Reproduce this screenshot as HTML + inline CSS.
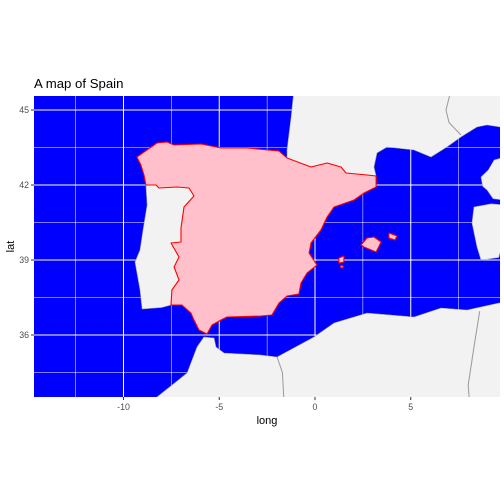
<!DOCTYPE html>
<html><head><meta charset="utf-8">
<style>body{margin:0;background:#fff}svg{display:block;font-family:"Liberation Sans",sans-serif}</style>
</head><body>
<svg id="c" width="504" height="504"></svg>
<script>
const xTicks=[-10,-5,0,5];
const yTicks=[36,39,42,45];
const xMinor=[-12.5,-7.5,-2.5,2.5,7.5];
const yMinor=[34.5,37.5,40.5,43.5];
const spain=[[-9.30,43.12],[-8.25,43.68],[-7.73,43.72],[-7.36,43.60],[-5.95,43.64],[-4.91,43.48],[-3.55,43.48],[-1.88,43.36],[-1.46,43.08],[-0.21,42.72],[0.63,42.88],[1.36,42.72],[1.62,42.48],[2.72,42.40],[3.19,42.36],[3.19,41.92],[2.56,41.68],[2.04,41.40],[0.99,41.12],[0.63,40.72],[0.31,40.20],[-0.21,39.68],[-0.31,39.28],[0.10,38.80],[-0.42,38.48],[-0.73,38.08],[-0.84,37.64],[-1.46,37.56],[-1.88,37.28],[-2.25,36.80],[-2.82,36.76],[-4.60,36.72],[-4.91,36.60],[-5.38,36.40],[-5.64,36.04],[-6.06,36.20],[-6.32,36.60],[-6.48,36.88],[-6.95,37.20],[-7.52,37.20],[-7.47,37.80],[-7.10,38.20],[-7.36,38.72],[-7.10,39.12],[-7.52,39.68],[-7.00,39.72],[-7.00,40.28],[-6.84,41.12],[-6.32,41.56],[-6.58,41.88],[-7.21,41.92],[-8.15,41.88],[-8.30,42.00],[-8.83,42.00],[-8.93,42.40],[-9.09,42.80]];
const mallorca=[[2.40,39.6],[2.72,39.88],[3.08,39.92],[3.45,39.72],[3.19,39.32],[2.56,39.52]];
const menorca=[[3.86,40.08],[4.28,39.96],[4.18,39.8],[3.86,39.88]];
const ibiza=[[1.25,39.08],[1.51,39.16],[1.51,38.92],[1.25,38.88]];
const formentera=[[1.33,38.78],[1.48,38.76],[1.45,38.68],[1.33,38.70]];
const portugal=[[-8.83,42.0],[-8.30,42.0],[-8.15,41.88],[-7.21,41.92],[-6.58,41.88],[-6.32,41.56],[-6.84,41.12],[-7.0,40.28],[-7.0,39.72],[-7.52,39.68],[-7.10,39.12],[-7.36,38.72],[-7.10,38.20],[-7.47,37.80],[-7.52,37.20],[-8.0,37.1],[-9.03,37.04],[-9.14,37.8],[-9.40,38.92],[-9.14,39.4],[-8.98,40.2],[-8.77,41.2]];
const france=[[-1.10,45.8],[-1.25,44.72],[-1.46,43.4],[-1.46,43.08],[-0.21,42.72],[0.63,42.88],[1.36,42.72],[1.62,42.48],[2.72,42.40],[3.19,42.36],[3.08,42.72],[3.24,43.28],[3.76,43.52],[5.17,43.4],[6.06,43.12],[6.89,43.52],[7.62,43.92],[8.46,44.32],[8.98,44.4],[9.66,44.32],[10,44.3],[10,45.8]];
const corsica=[[9.8,43.1],[9.35,43.0],[9.05,42.6],[8.67,42.32],[8.75,41.95],[8.98,41.8],[9.3,41.45],[9.8,41.4]];
const sardinia=[[9.2,41.25],[8.3,41.12],[8.2,40.48],[8.46,39.52],[8.67,39.0],[9.6,39.1],[9.9,40.0],[9.9,41.2]];
const africa=[[-8.6,33.0],[-8.25,33.52],[-6.68,34.48],[-6.16,35.52],[-5.80,35.92],[-5.27,35.88],[-5.17,35.52],[-4.75,35.28],[-2.82,35.2],[-1.98,35.12],[-0.05,35.92],[0.99,36.48],[2.72,36.88],[5.17,36.72],[6.58,37.08],[7.94,37.0],[9.6,37.28],[10,37.3],[10,33.0]];
const borderMA=[[-1.98,35.12],[-1.7,34.5],[-1.6,33.0]];
const borderAT=[[8.6,36.95],[8.3,35.5],[8.0,34.0],[8.1,33.0]];
const borderFI=[[7.1,45.8],[6.84,45.0],[7.0,44.5],[7.62,44.0]];

const L=34,R=500,T=96,B=397;
const x=lon=>315+lon*19.15;
const y=lat=>110+(45-lat)*25;
const NS="http://www.w3.org/2000/svg";
const svg=document.getElementById('c');
function mk(t,a,p){const e=document.createElementNS(NS,t);for(const k in a)e.setAttribute(k,a[k]);(p||svg).appendChild(e);return e;}
function pts(arr){return arr.map(d=>x(d[0]).toFixed(1)+','+y(d[1]).toFixed(1)).join(' ');}

const defs=mk('defs',{});const cp=mk('clipPath',{id:'pc'},defs);mk('rect',{x:L,y:T,width:R-L,height:B-T},cp);
const bg=mk('rect',{x:L,y:T,width:R-L,height:B-T,fill:'#0000ff'});


const g=mk('g',{'clip-path':'url(#pc)'});


xMinor.forEach(v=>{const l=mk('line',{x1:x(v),x2:x(v),y1:T,y2:B,stroke:'#fff','stroke-width':0.5},g);});
yMinor.forEach(v=>{const l=mk('line',{x1:L,x2:R,y1:y(v),y2:y(v),stroke:'#fff','stroke-width':0.5},g);});
xTicks.forEach(v=>{const l=mk('line',{x1:x(v),x2:x(v),y1:T,y2:B,stroke:'#fff','stroke-width':1},g);});
yTicks.forEach(v=>{const l=mk('line',{x1:L,x2:R,y1:y(v),y2:y(v),stroke:'#fff','stroke-width':1},g);});
function land(arr,name){const p=mk('polygon',{points:pts(arr),fill:'#f2f2f2',stroke:'#999','stroke-width':0.6},g);}
land(france,'france-land');land(corsica,'corsica-land');land(sardinia,'sardinia-land');land(africa,'africa-land');land(portugal,'portugal-land');
function border(arr,name){const p=mk('polyline',{points:pts(arr),fill:'none',stroke:'#999','stroke-width':1},g);}
border(borderMA,'morocco-algeria-border');border(borderAT,'algeria-tunisia-border');border(borderFI,'france-italy-border');
function sp(arr,name){const p=mk('polygon',{points:pts(arr),fill:'#ffc0cb',stroke:'#ff0000','stroke-width':1.1,'stroke-linejoin':'round'},g);}
sp(spain,'spain-mainland');sp(mallorca,'mallorca');sp(menorca,'menorca');sp(ibiza,'ibiza');sp(formentera,'formentera');

xTicks.forEach(v=>{mk('line',{x1:x(v),x2:x(v),y1:B,y2:B+3,stroke:'#333','stroke-width':1});
const t=mk('text',{x:x(v),y:B+13,'text-anchor':'middle','font-size':8.8,fill:'#4d4d4d'});t.textContent=v;
});
yTicks.forEach(v=>{mk('line',{x1:L-3,x2:L,y1:y(v),y2:y(v),stroke:'#333','stroke-width':1});
const t=mk('text',{x:L-5,y:y(v)+3,'text-anchor':'end','font-size':8.8,fill:'#4d4d4d'});t.textContent=v;
});
const xt=mk('text',{x:(L+R)/2,y:424,'text-anchor':'middle','font-size':11,fill:'#000'});xt.textContent='long';

const yt=mk('text',{x:14,y:(T+B)/2,'text-anchor':'middle','font-size':11,fill:'#000',transform:'rotate(-90 14 '+((T+B)/2)+')'});yt.textContent='lat';

const tt=mk('text',{x:L,y:88,'font-size':13.2,fill:'#000'});tt.textContent='A map of Spain';

</script>
</body></html>
